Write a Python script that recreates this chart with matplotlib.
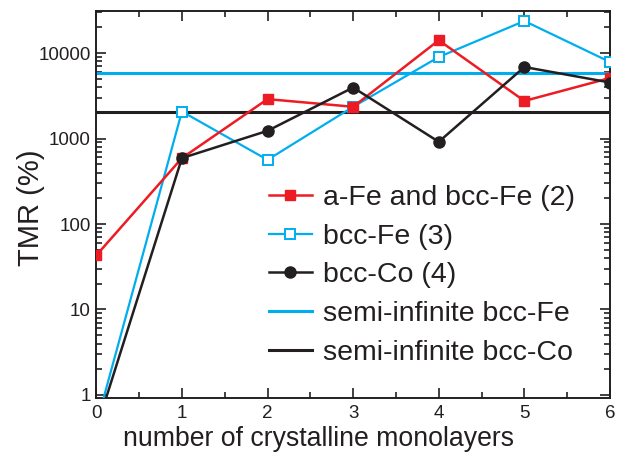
import numpy as np
import matplotlib
matplotlib.use("Agg")
import matplotlib.pyplot as plt
from matplotlib.ticker import FixedLocator, LogLocator, NullFormatter, MultipleLocator

plt.rcParams['font.family'] = ['Liberation Sans', 'DejaVu Sans']

# TMR vs number of crystalline monolayers
layers = [0, 1, 2, 3, 4, 5, 6]
tmr_afe = [43, 590, 2890, 2350, 14100, 2750, 5100]
tmr_bccfe = [0.45, 2070, 563, 2350, 8980, 23700, 7850]
tmr_bccco = [0.4, 590, 1230, 3950, 915, 6860, 4520]
semi_fe = 5840
semi_co = 2050

red = '#ED1C24'
blue = '#00AEEF'
dark = '#231F20'

fig = plt.figure(figsize=(6.39, 4.59), dpi=100)
ax = fig.add_axes([0.1507, 0.1336, 0.8039, 0.8424])

ax.axhline(semi_fe, color=blue, lw=2.2, label='semi-infinite bcc-Fe', zorder=2)
ax.axhline(semi_co, color=dark, lw=2.2, label='semi-infinite bcc-Co', zorder=2)

ax.plot(layers, tmr_bccfe, color=blue, lw=1.6, marker='s', ms=6.5,
        mfc='white', mec=blue, mew=1.4, label='bcc-Fe (3)', zorder=3)
ax.plot(layers, tmr_afe, color=red, lw=1.8, marker='s', ms=6.5,
        mfc=red, mec=red, label='a-Fe and bcc-Fe (2)', zorder=4)
ax.plot(layers, tmr_bccco, color=dark, lw=1.8, marker='o', ms=8,
        mfc=dark, mec=dark, label='bcc-Co (4)', zorder=5)

ax.set_yscale('log')
ax.set_xlim(0, 6)
ax.set_ylim(0.93, 31000)

ax.xaxis.set_major_locator(MultipleLocator(1))
ax.xaxis.set_minor_locator(MultipleLocator(0.5))
ax.yaxis.set_major_locator(FixedLocator([1, 10, 100, 1000, 10000]))
ax.set_yticklabels(['1', '10', '100', '1000', '10000'])
ax.yaxis.set_minor_locator(LogLocator(base=10, subs=np.arange(2, 10)))
ax.yaxis.set_minor_formatter(NullFormatter())

ax.tick_params(which='both', direction='in', top=True, right=True,
               colors=dark, labelsize=13.5, width=1.2)
ax.tick_params(which='major', length=7, pad=5)
ax.tick_params(axis='y', which='major', pad=4)
ax.tick_params(which='minor', length=4)
for s in ax.spines.values():
    s.set_linewidth(1.4)
    s.set_color(dark)

ax.set_xlabel('number of crystalline monolayers', fontsize=19.2, color=dark)
ax.set_ylabel('TMR (%)', fontsize=21, color=dark)
ax.xaxis.set_label_coords(0.4335, -0.073)
ax.yaxis.set_label_coords(-0.1, 0.49)

handles, labels = ax.get_legend_handles_labels()
order = ['a-Fe and bcc-Fe (2)', 'bcc-Fe (3)', 'bcc-Co (4)',
         'semi-infinite bcc-Fe', 'semi-infinite bcc-Co']
hmap = dict(zip(labels, handles))
ax.legend([hmap[k] for k in order], order, loc='upper left',
          bbox_to_anchor=(0.336, 0.549), frameon=False, fontsize=20.5,
          handlelength=1.5, handletextpad=0.4, labelspacing=0.44,
          borderpad=0, borderaxespad=0, labelcolor=dark)

fig.savefig('out.png', dpi=100)
